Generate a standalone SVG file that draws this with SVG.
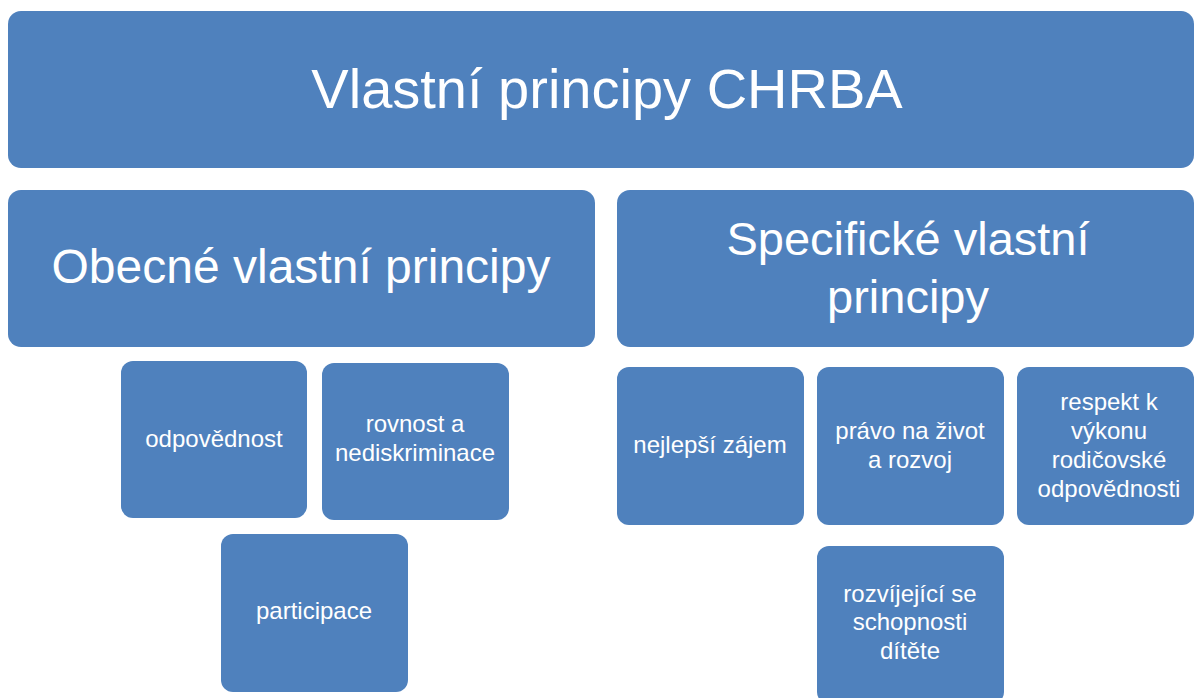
<svg xmlns="http://www.w3.org/2000/svg" width="1195" height="698" viewBox="0 0 1195 698">
<style>
.box{fill:#4F81BD;}
.t{fill:#FFFFFF;font-family:"Liberation Sans",Arial,sans-serif;text-anchor:middle;}
.big{font-size:56px;}
.mid{font-size:47px;}
.sm{font-size:24px;}
</style>
<rect x="0" y="0" width="1195" height="698" fill="#FFFFFF"/>
<g id="connectors"></g>
<g id="root">
<rect class="box" x="8" y="11" width="1186" height="157" rx="13"/>
<text class="t big" x="607" y="108">Vlastní principy CHRBA</text>
</g>
<g id="obecne">
<rect class="box" x="8" y="190" width="587" height="157" rx="13"/>
<text class="t mid" x="301" y="283" style="font-size:48px">Obecné vlastní principy</text>
</g>
<g id="specificke">
<rect class="box" x="617" y="190" width="577" height="157" rx="13"/>
<text class="t mid" x="908" y="255">Specifické vlastní</text>
<text class="t mid" x="908" y="313">principy</text>
</g>
<g id="odpovednost">
<rect class="box" x="121" y="361" width="186" height="157" rx="12"/>
<text class="t sm" x="214" y="447">odpovědnost</text>
</g>
<g id="rovnost">
<rect class="box" x="322" y="363" width="187" height="157" rx="12"/>
<text class="t sm" x="415" y="432">rovnost a</text>
<text class="t sm" x="415" y="461">nediskriminace</text>
</g>
<g id="participace">
<rect class="box" x="221" y="534" width="187" height="158" rx="12"/>
<text class="t sm" x="314" y="619">participace</text>
</g>
<g id="nejlepsi">
<rect class="box" x="617" y="367" width="187" height="158" rx="12"/>
<text class="t sm" x="710" y="453">nejlepší zájem</text>
</g>
<g id="pravo">
<rect class="box" x="817" y="367" width="187" height="158" rx="12"/>
<text class="t sm" x="910" y="439">právo na život</text>
<text class="t sm" x="910" y="468">a rozvoj</text>
</g>
<g id="respekt">
<rect class="box" x="1017" y="367" width="177" height="158" rx="12"/>
<text class="t sm" x="1109" y="410">respekt k</text>
<text class="t sm" x="1109" y="439">výkonu</text>
<text class="t sm" x="1109" y="468">rodičovské</text>
<text class="t sm" x="1109" y="497">odpovědnosti</text>
</g>
<g id="rozvijejici">
<rect class="box" x="817" y="546" width="187" height="158" rx="12"/>
<text class="t sm" x="910" y="602">rozvíjející se</text>
<text class="t sm" x="910" y="630">schopnosti</text>
<text class="t sm" x="910" y="659">dítěte</text>
</g>
</svg>
